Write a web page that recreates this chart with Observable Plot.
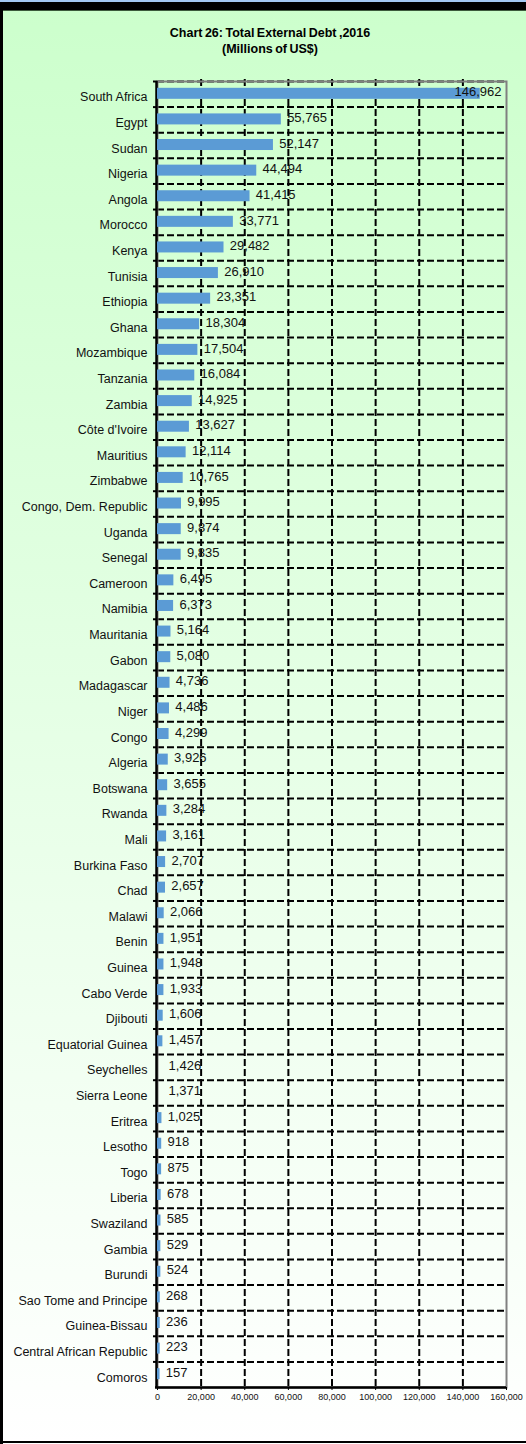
<!DOCTYPE html>
<html>
<head>
<meta charset="utf-8">
<script src="https://cdn.jsdelivr.net/npm/d3@7"></script>
<script src="https://cdn.jsdelivr.net/npm/@observablehq/plot@0.6"></script>
<style>
  body { margin: 0; background: #fff; }
  #wrap {
    position: relative; width: 526px; height: 1444px; overflow: hidden;
    background: linear-gradient(to bottom, #ccffcc 0%, #ffffff 100%);
    font-family: "Liberation Sans", Arial, sans-serif;
  }
  #head { height: 60px; position: relative; }
  #title {
    position: absolute; left: 14px; width: 512px; top: 25px;
    text-align: center; font-weight: bold; font-size: 12.5px; line-height: 16px; color: #000;
    word-spacing: -1px;
  }
  .bd { position: absolute; background: #000; z-index: 5; }
  #chart svg { display: block; }
</style>
</head>
<body>
<div id="wrap">
  <div class="bd" style="left:0;top:0;width:526px;height:2px;background:#a3c8f2"></div>
  <div class="bd" style="left:0;top:2px;width:526px;height:8px;"></div>
  <div class="bd" style="left:0;top:10px;width:526px;height:1px;background:#3c5a3c"></div>
  <div class="bd" style="left:0;top:2px;width:3px;height:1442px;"></div>
  <div class="bd" style="left:0;top:1441px;width:526px;height:2px;"></div>
  <div id="head">
    <div id="title">Chart 26: Total External Debt ,2016<br>(Millions of US$)</div>
  </div>
  <div id="chart"></div>
</div>
<script>
const countries = [
  "South Africa", "Egypt", "Sudan", "Nigeria", "Angola", "Morocco", "Kenya", "Tunisia",
  "Ethiopia", "Ghana", "Mozambique", "Tanzania", "Zambia", "Côte d'Ivoire", "Mauritius",
  "Zimbabwe", "Congo, Dem. Republic", "Uganda", "Senegal", "Cameroon", "Namibia",
  "Mauritania", "Gabon", "Madagascar", "Niger", "Congo", "Algeria", "Botswana", "Rwanda",
  "Mali", "Burkina Faso", "Chad", "Malawi", "Benin", "Guinea", "Cabo Verde", "Djibouti",
  "Equatorial Guinea", "Seychelles", "Sierra Leone", "Eritrea", "Lesotho", "Togo",
  "Liberia", "Swaziland", "Gambia", "Burundi", "Sao Tome and Principe", "Guinea-Bissau",
  "Central African Republic", "Comoros"
];
const debt = [
  146962, 55765, 52147, 44494, 41415, 33771, 29482, 26910,
  23351, 18304, 17504, 16084, 14925, 13627, 12114,
  10765, 9995, 9874, 9835, 6495, 6373,
  5164, 5080, 4736, 4486, 4299, 3926, 3655, 3284,
  3161, 2707, 2657, 2066, 1951, 1948, 1933, 1606,
  1457, 1426, 1371, 1025, 918, 875,
  678, 585, 529, 524, 268, 236,
  223, 157
];
// Countries whose bar is not drawn in the original chart (label only)
const noBar = ["Seychelles", "Sierra Leone"];
const xTicks = [0, 20000, 40000, 60000, 80000, 100000, 120000, 140000, 160000];
const gridX = [20000, 40000, 60000, 80000, 100000, 120000, 140000];

const rows = countries.map((c, i) => ({country: c, value: debt[i]}));
const fmt = d3.format(",");

const W = 526, H = 1384;
const mt = 21, mb = 57, ml = 157, mr = 20;
const bw = (H - mt - mb) / countries.length;
const barH = 11;
const inset = (bw - barH) / 2;
const top1 = rows[0];

const chart = Plot.plot({
  width: W, height: H,
  marginTop: mt, marginBottom: mb, marginLeft: ml, marginRight: mr,
  style: {background: "transparent", fontFamily: "'Liberation Sans', Arial, sans-serif", overflow: "visible", color: "#000"},
  x: {domain: [0, 160000], label: null},
  y: {domain: countries, padding: 0, label: null},
  marks: [
    Plot.ruleX(gridX, {stroke: "#000", strokeWidth: 2, strokeDasharray: "7,3", insetTop: -2}),
    Plot.ruleY(countries, {y: d => d, dy: -bw / 2, stroke: "#000", strokeWidth: 2, strokeDasharray: "7,3"}),
    Plot.frame({stroke: "#808080", strokeWidth: 2}),
    Plot.ruleY(countries, {y: d => d, dy: -bw / 2, x1: 0, x2: 0, insetLeft: -4, stroke: "#000", strokeWidth: 2}),
    Plot.ruleX([0], {stroke: "#000", strokeWidth: 2.5, dx: -1}),
    Plot.barX(rows.filter(d => !noBar.includes(d.country)), {
      x: "value", y: "country", fill: "#5b9bd5", insetTop: inset - 0.5, insetBottom: inset + 0.5, insetRight: -2.2
    }),
    Plot.text(rows.slice(1), {
      x: "value", y: "country", text: d => fmt(d.value), dx: 8, dy: -2,
      textAnchor: "start", fontSize: 13, fill: "#111"
    }),
    Plot.text([top1], {
      frameAnchor: "right", y: "country", text: d => fmt(d.value), dx: -5, dy: -2,
      textAnchor: "end", fontSize: 13, fill: "#111"
    }),
    Plot.ruleY([countries[countries.length - 1]], {dy: bw / 2, stroke: "#000", strokeWidth: 2.5, insetLeft: -2}),
    Plot.axisY({tickSize: 0, tickPadding: 10, fontSize: 12.5, dy: 3, fill: "#111"}),
    Plot.axisX({ticks: xTicks, tickFormat: fmt, tickSize: 3, tickPadding: 3, fontSize: 9, fill: "#111", stroke: "#000"})
  ]
});
document.getElementById("chart").appendChild(chart);
</script>
</body>
</html>
